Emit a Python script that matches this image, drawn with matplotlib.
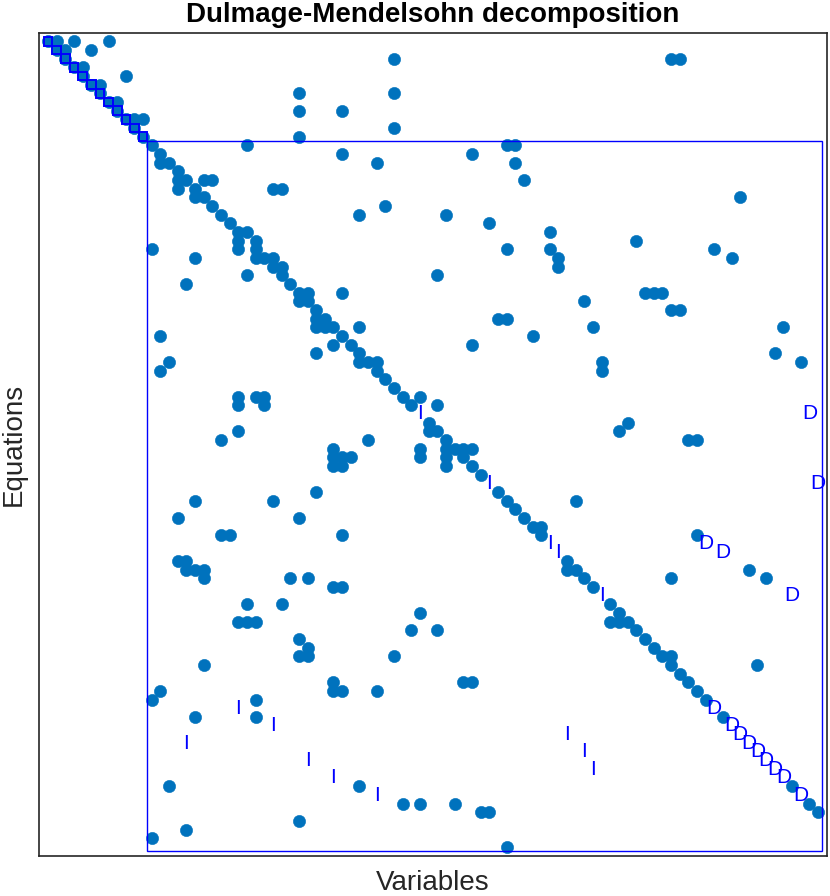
import matplotlib
matplotlib.use("Agg")
import matplotlib.pyplot as plt
from matplotlib.patches import Rectangle

plt.rcParams['font.family'] = ['Liberation Sans', 'DejaVu Sans']

n_rows, n_cols = 94, 90

# Non-zero entries drawn as dots (row index, column index)
dot_rows = (
    [1]*4 + [2]*3 + [3]*4 + [4]*2 + [5]*2 + [6]*2 + [7]*3 + [8]*2 + [9]*3 + [10]*3 +
    [11]*2 + [12]*2 + [13]*4 + [14]*3 + [15]*4 + [16]*1 + [17]*5 + [18]*4 + [19]*3 + [20]*2 +
    [21]*3 + [22]*2 + [23]*3 + [24]*3 + [25]*6 + [26]*6 + [27]*3 + [28]*3 + [29]*2 + [30]*6 +
    [31]*3 + [32]*3 + [33]*4 + [34]*6 + [35]*3 + [36]*3 + [37]*3 + [38]*6 + [39]*3 + [40]*1 +
    [41]*1 + [42]*5 + [43]*4 + [45]*2 + [46]*4 + [47]*5 + [48]*6 + [49]*6 + [50]*4 +
    [51]*1 + [53]*2 + [54]*4 + [55]*1 + [56]*3 + [57]*2 + [58]*5 +
    [61]*3 + [62]*6 + [63]*6 + [64]*3 + [66]*3 + [67]*2 + [68]*6 + [69]*3 + [70]*2 +
    [71]*2 + [72]*5 + [73]*3 + [74]*1 + [75]*4 + [76]*5 + [77]*3 + [79]*3 +
    [87]*3 + [89]*4 + [90]*3 + [91]*1 + [92]*1 + [93]*1 + [94]*1
)
dot_cols = (
    [1, 2, 4, 8] + [2, 3, 6] + [3, 41, 73, 74] + [4, 5] + [5, 10] + [6, 7] + [7, 30, 41] +
    [8, 9] + [9, 30, 35] + [10, 11, 12] +
    [11, 41] + [12, 30] + [13, 24, 54, 55] + [14, 35, 50] + [14, 15, 39, 55] + [16] +
    [16, 17, 19, 20, 56] + [16, 18, 27, 28] + [18, 19, 81] + [20, 40] +
    [21, 37, 47] + [22, 52] + [23, 24, 59] + [23, 25, 69] + [13, 23, 25, 54, 59, 78] +
    [18, 25, 26, 27, 60, 80] + [27, 28, 60] + [24, 28, 46] + [17, 29] + [30, 31, 35, 70, 71, 72] +
    [30, 31, 63] + [32, 73, 74] + [32, 33, 53, 54] + [32, 33, 34, 37, 64, 86] + [14, 35, 57] +
    [34, 36, 50] + [32, 37, 85] + [15, 37, 38, 39, 65, 88] + [14, 39, 65] + [40] +
    [41] + [23, 25, 26, 42, 44] + [23, 26, 43, 46] + [45, 68] + [23, 45, 46, 67] +
    [21, 38, 47, 75, 76] + [34, 44, 47, 48, 49, 50] + [34, 35, 36, 44, 47, 49] + [34, 35, 47, 50] +
    [51] + [32, 53] + [18, 27, 54, 62] + [55] + [16, 30, 56] + [57, 58] + [21, 22, 35, 58, 76] +
    [16, 17, 61] + [17, 18, 19, 61, 62, 82] + [19, 29, 31, 63, 73, 84] + [34, 35, 64] +
    [24, 28, 66] + [44, 67] + [23, 24, 25, 66, 67, 68] + [43, 46, 69] + [30, 70] +
    [31, 71] + [30, 31, 41, 72, 73] + [19, 73, 83] + [74] + [34, 49, 50, 75] +
    [14, 34, 35, 39, 76] + [13, 25, 77] + [18, 25, 79] +
    [15, 37, 87] + [42, 44, 48, 89] + [51, 52, 90] + [30] + [17] + [13] + [54]
)

# Entries labelled 'I'
i_rows = [44, 52, 59, 60, 65, 78, 80, 81, 82, 83, 84, 85, 86, 88]
i_cols = [44, 52, 59, 60, 65, 23, 27, 61, 17, 63, 31, 64, 34, 39]
# Entries labelled 'D'
d_rows = [44, 52, 59, 60, 65, 78, 80, 81, 82, 83, 84, 85, 86, 88]
d_cols = [89, 90, 77, 79, 87, 78, 80, 81, 82, 83, 84, 85, 86, 88]

# Block boundaries: 12 singleton blocks + one large block
small_blocks = list(range(1, 13))
big_block_rows = (13, 94)
big_block_cols = (13, 90)

dot_color = '#0072BD'
mark_color = '#0000FF'

fig = plt.figure(figsize=(8.3, 8.96), dpi=100)
ax = fig.add_axes([39.3/830, 1-855.7/896, (826.7-39.3)/830, (855.7-32.7)/896])

ax.plot(dot_cols, dot_rows, 'o', color=dot_color, markersize=8.8,
        markeredgecolor=dot_color, markeredgewidth=0.4, linestyle='none', zorder=2)

for r, c in zip(i_rows, i_cols):
    ax.text(c, r, 'I', color=mark_color, fontsize=15, ha='center', va='center', zorder=4)
for r, c in zip(d_rows, d_cols):
    ax.text(c, r, 'D', color=mark_color, fontsize=15, ha='center', va='center', zorder=4)

for k in small_blocks:
    ax.add_patch(Rectangle((k-0.5, k-0.5), 1, 1, fill=False, edgecolor=mark_color,
                           linewidth=1.4, zorder=3))
ax.add_patch(Rectangle((big_block_cols[0]-0.5, big_block_rows[0]-0.5),
                       big_block_cols[1]-big_block_cols[0]+1,
                       big_block_rows[1]-big_block_rows[0]+1,
                       fill=False, edgecolor=mark_color, linewidth=1.0, zorder=3))

ax.set_xlim(0, n_cols+1)
ax.set_ylim(n_rows+1, 0)
ax.set_xticks([])
ax.set_yticks([])
for s in ax.spines.values():
    s.set_color('#262626')
    s.set_linewidth(1.2)

ax.set_title('Dulmage-Mendelsohn decomposition', fontsize=20, fontweight='bold', pad=8)
ax.set_xlabel('Variables', fontsize=20, color='#262626', labelpad=10)
ax.set_ylabel('Equations', fontsize=20, color='#262626', labelpad=9)

fig.savefig('out.png', dpi=100)
